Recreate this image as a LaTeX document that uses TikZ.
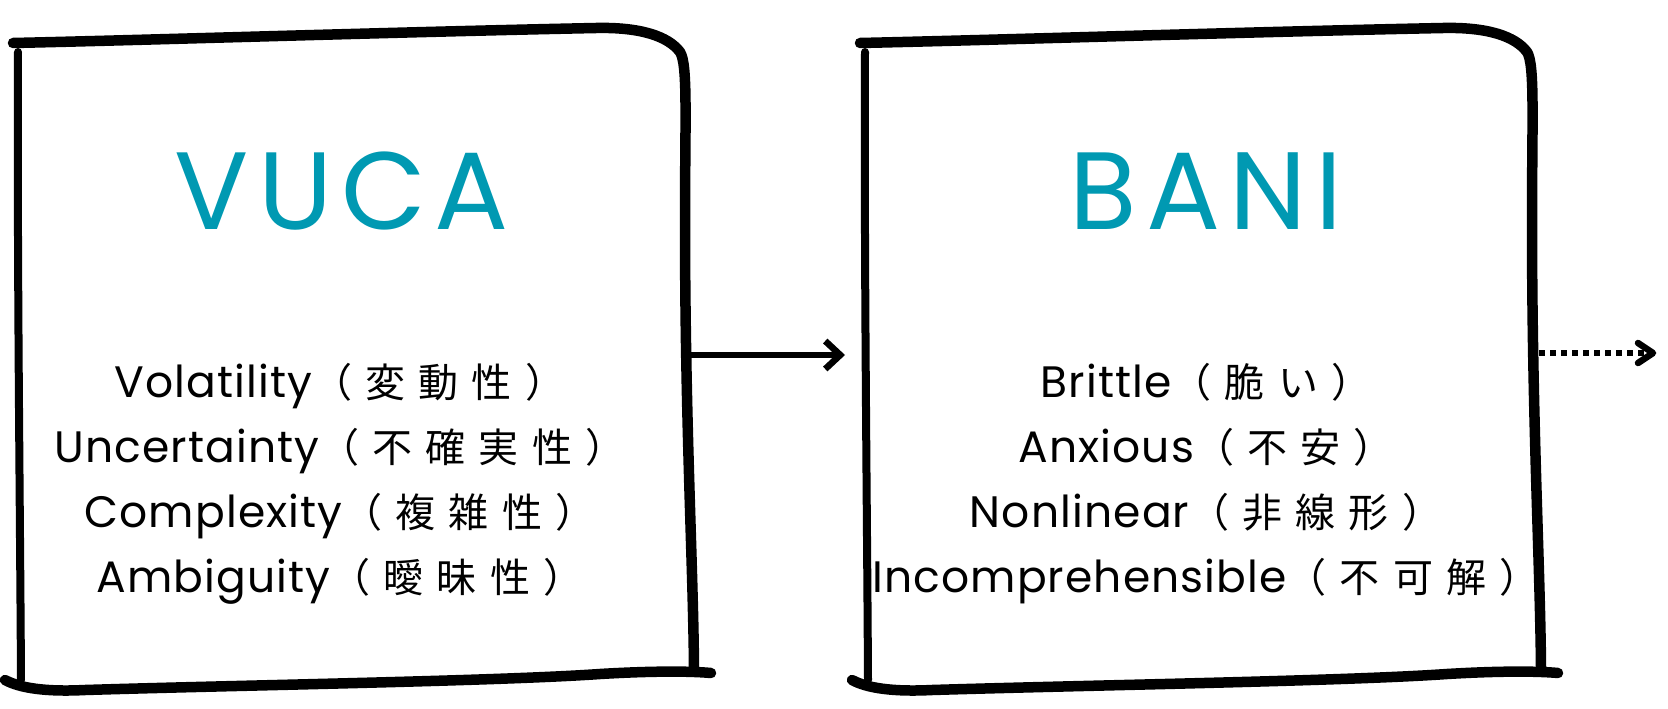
\documentclass[tikz,border=0pt]{standalone}
\usepackage{fontspec}
\setmainfont{Poppins}
\newfontfamily\latf[LetterSpace=2.5]{Poppins}
\newfontfamily\jpf[LetterSpace=33]{Noto Sans CJK JP}
\newfontfamily\ttlf[LetterSpace=8]{Poppins}
\usetikzlibrary{arrows.meta}
\definecolor{titleteal}{HTML}{0099B2}
\newcommand\entry[2]{{\latf #1}{\jpf\fontsize{40}{48}\selectfont （#2）}}
\tikzset{
  sketch/.style={line width=10.5pt, line cap=round, line join=round},
  sketchthin/.style={line width=8pt, line cap=round, line join=round},
  titletext/.style={anchor=base, inner sep=0pt, text=titleteal, font=\ttlf\fontsize{110}{120}\selectfont},
  listtext/.style={anchor=base, inner sep=0pt, font=\latf\fontsize{44}{60}\selectfont},
  chev/.style={-{Straight Barb[length=15pt,width=28pt,line width=6.5pt]}, line width=6.5pt}
}
\begin{document}
\begin{tikzpicture}[x=1pt,y=-1pt]
\useasboundingbox (0,0) rectangle (1668,709);
% box 1
\draw[sketch] (13,43) .. controls (150,40) and (400,32) .. (596,28)
  .. controls (640,27) and (668,36) .. (680,52)
  .. controls (688,64) and (685,120) .. (685,220)
  .. controls (685,420) and (693,560) .. (694,668);
\draw[sketchthin] (18,52) .. controls (17,250) and (20,500) .. (21,680);
\draw[sketch] (5,680) .. controls (20,688) and (45,692) .. (85,690)
  .. controls (250,685) and (500,681) .. (600,674)
  .. controls (650,671) and (690,671) .. (711,673);
% box 2
\draw[sketch] (860,43) .. controls (997,40) and (1247,32) .. (1443,28)
  .. controls (1487,27) and (1515,36) .. (1527,52)
  .. controls (1535,64) and (1532,120) .. (1532,220)
  .. controls (1532,420) and (1540,560) .. (1541,668);
\draw[sketchthin] (865,52) .. controls (864,250) and (867,500) .. (868,680);
\draw[sketch] (852,680) .. controls (867,688) and (892,692) .. (932,690)
  .. controls (1097,685) and (1347,681) .. (1447,674)
  .. controls (1497,671) and (1537,671) .. (1558,673);
% titles
\node[titletext] (vuca) at (342,229) {VUCA};
\node[titletext] (bani) at (1206,229) {BANI};
% lists
\node[listtext] (v1) at (340,397) {\entry{Volatility}{変動性}};
\node[listtext] (v2) at (340,462) {\entry{Uncertainty}{不確実性}};
\node[listtext] (v3) at (340,527) {\entry{Complexity}{複雑性}};
\node[listtext] (v4) at (340,592) {\entry{Ambiguity}{曖昧性}};
\node[listtext] (b1) at (1206,397) {\entry{Brittle}{脆い}};
\node[listtext] (b2) at (1206,462) {\entry{Anxious}{不安}};
\node[listtext] (b3) at (1206,527) {\entry{Nonlinear}{非線形}};
\node[listtext] (b4) at (1206,592) {\entry{Incomprehensible}{不可解}};
% arrows
\coordinate (a1s) at (690,355);
\coordinate (a1e) at (845,355);
\coordinate (a2s) at (1539,353);
\coordinate (a2e) at (1653,353);
\draw[chev] (a1s) -- (a1e);
\draw[line width=6.5pt, dash pattern=on 6pt off 5pt] (a2s) -- ([xshift=-5pt]a2e);
\draw[line width=6.5pt, line cap=round, line join=round] ([xshift=-15pt,yshift=-10pt]a2e) -- (a2e) -- ([xshift=-15pt,yshift=10pt]a2e);
\end{tikzpicture}
\end{document}
